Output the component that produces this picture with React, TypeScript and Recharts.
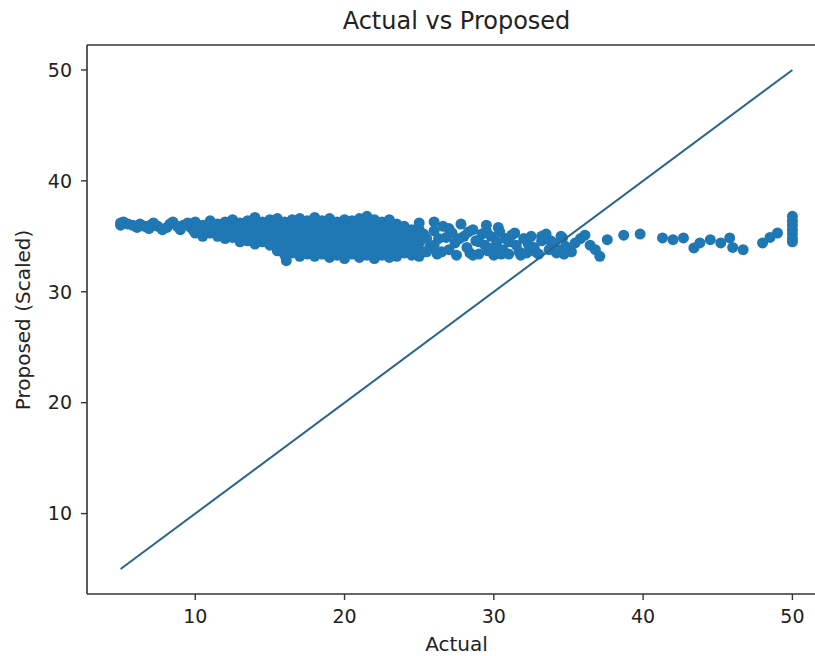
import React from "react";
import { ScatterChart, Scatter, XAxis, YAxis, ReferenceLine } from "recharts";

// [actual, proposed] pairs, grouped by region of the band
const bandLow: [number, number][] = [
  [5, 36.2], [5, 36.0], [5.2, 36.3], [5.5, 36.1], [5.8, 36.0], [6.1, 35.8], [6.3, 36.1],
  [6.6, 35.9], [6.9, 35.7], [7.0, 36.0], [7.2, 36.2], [7.5, 35.9], [7.8, 35.6], [8.1, 35.8],
  [8.3, 36.1], [8.5, 36.3], [8.8, 35.9], [9.0, 35.6], [9.2, 36.0], [9.5, 36.2], [9.7, 35.8],
  [9.9, 35.5],
];

const bandMid: [number, number][] = [
  [10, 36.3], [10, 35.8], [10, 35.3],
  [10.5, 36.0], [10.5, 35.5], [10.5, 35.0],
  [11, 36.4], [11, 35.9], [11, 35.3],
  [11.5, 36.1], [11.5, 35.6], [11.5, 35.0],
  [12, 36.3], [12, 35.7], [12, 35.2], [12, 34.8],
  [12.5, 36.5], [12.5, 35.9], [12.5, 35.4], [12.5, 34.9],
  [13, 36.2], [13, 35.6], [13, 35.0], [13, 34.5],
  [13.5, 36.4], [13.5, 35.8], [13.5, 35.2], [13.5, 34.6],
  [14, 36.7], [14, 36.0], [14, 35.4], [14, 34.8], [14, 34.3],
  [14.5, 36.3], [14.5, 35.7], [14.5, 35.1], [14.5, 34.5],
  [15, 36.5], [15, 36.0], [15, 35.4], [15, 34.8], [15, 34.2],
];

const bandDense: [number, number][] = [
  [15.5, 36.6], [15.5, 36.0], [15.5, 35.4], [15.5, 34.8], [15.5, 34.2], [15.5, 33.7],
  [16, 36.3], [16, 35.7], [16, 35.1], [16, 34.5], [16, 33.9], [16, 33.3], [16.1, 32.8],
  [16.5, 36.5], [16.5, 35.9], [16.5, 35.3], [16.5, 34.7], [16.5, 34.1], [16.5, 33.5],
  [17, 36.6], [17, 36.0], [17, 35.4], [17, 34.8], [17, 34.2], [17, 33.6], [17, 33.2],
  [17.5, 36.4], [17.5, 35.8], [17.5, 35.2], [17.5, 34.6], [17.5, 34.0], [17.5, 33.4],
  [18, 36.7], [18, 36.1], [18, 35.5], [18, 34.9], [18, 34.3], [18, 33.7], [18, 33.2],
  [18.5, 36.4], [18.5, 35.8], [18.5, 35.2], [18.5, 34.6], [18.5, 34.0], [18.5, 33.4],
  [19, 36.6], [19, 36.0], [19, 35.4], [19, 34.8], [19, 34.2], [19, 33.6], [19, 33.1],
  [19.5, 36.3], [19.5, 35.7], [19.5, 35.1], [19.5, 34.5], [19.5, 33.9], [19.5, 33.3],
  [20, 36.5], [20, 35.9], [20, 35.3], [20, 34.7], [20, 34.1], [20, 33.5], [20, 33.0],
  [20.5, 36.4], [20.5, 35.8], [20.5, 35.2], [20.5, 34.6], [20.5, 34.0], [20.5, 33.4],
  [21, 36.6], [21, 36.0], [21, 35.4], [21, 34.8], [21, 34.2], [21, 33.6], [21, 33.1],
  [21.5, 36.8], [21.5, 36.2], [21.5, 35.6], [21.5, 35.0], [21.5, 34.4], [21.5, 33.8], [21.5, 33.3],
  [22, 36.5], [22, 35.9], [22, 35.3], [22, 34.7], [22, 34.1], [22, 33.5], [22, 33.0],
  [22.5, 36.3], [22.5, 35.7], [22.5, 35.1], [22.5, 34.5], [22.5, 33.9], [22.5, 33.3],
  [23, 36.5], [23, 35.9], [23, 35.3], [23, 34.7], [23, 34.1], [23, 33.5], [23, 33.1],
  [23.5, 36.1], [23.5, 35.5], [23.5, 34.9], [23.5, 34.3], [23.5, 33.7], [23.5, 33.2],
  [24, 35.9], [24, 35.3], [24, 34.7], [24, 34.1], [24, 33.5],
  [24.5, 35.6], [24.5, 35.0], [24.5, 34.4], [24.5, 33.8], [24.5, 33.3],
];

const bandSparse: [number, number][] = [
  [25.0, 36.2], [25.0, 35.6], [25.0, 35.0], [25.0, 34.4], [25.0, 33.8], [25.0, 33.2],
  [25.3, 35.2], [25.5, 34.8], [25.5, 33.6], [25.7, 34.0],
  [26.0, 36.3], [26.0, 35.5], [26.0, 34.2], [26.2, 33.4], [26.3, 34.8], [26.5, 33.6],
  [26.6, 35.9], [26.8, 34.9], [27.0, 33.8], [27.0, 35.7], [27.2, 35.3], [27.4, 34.4],
  [27.5, 33.3], [27.7, 34.8],
  [27.8, 36.1], [28.0, 35.0], [28.2, 34.0], [28.3, 35.4], [28.4, 33.5], [28.6, 35.6],
  [28.6, 33.3], [28.8, 34.6],
  [29.0, 33.4], [29.0, 34.5], [29.2, 35.2], [29.4, 34.2], [29.5, 36.0], [29.5, 35.5],
  [29.6, 33.7], [29.8, 35.0], [30.0, 33.3], [30.0, 34.0],
  [30.2, 34.5], [30.3, 35.8], [30.4, 35.4], [30.5, 33.4], [30.6, 33.8], [30.8, 34.8],
  [31.0, 33.4], [31.0, 34.5], [31.2, 35.1], [31.4, 35.3],
  [31.5, 34.2], [31.7, 33.6], [31.8, 33.3], [32.0, 34.8], [32.2, 33.5], [32.3, 34.3],
  [32.5, 35.0], [32.7, 34.0], [32.8, 33.6],
  [33.0, 33.4], [33.2, 34.6], [33.2, 35.0], [33.5, 35.2], [33.7, 33.8], [33.8, 34.6],
  [34.0, 34.4], [34.2, 33.5], [34.3, 33.8],
  [34.5, 35.0], [34.7, 33.4], [34.8, 34.1], [35.2, 33.6], [35.8, 34.8],
];

const bandHigh: [number, number][] = [
  [34.6, 34.85], [35.45, 34.4], [36.1, 35.1], [36.45, 34.2], [36.8, 33.8], [37.1, 33.2],
  [37.6, 34.7], [38.7, 35.1], [39.8, 35.2],
  [41.3, 34.85], [42.0, 34.7], [42.7, 34.85], [43.4, 33.95], [43.8, 34.4], [44.5, 34.7],
  [45.2, 34.4], [45.8, 34.85], [46.0, 34.0], [46.7, 33.8],
  [48.0, 34.4], [48.5, 34.9], [49.0, 35.3],
  [50, 36.8], [50, 36.4], [50, 36.0], [50, 35.6], [50, 35.2], [50, 34.8], [50, 34.5],
];

const diagonalEnds = [5, 50];
const xTicks = [10, 20, 30, 40, 50];
const yTicks = [10, 20, 30, 40, 50];
const axisDomain: [number, number] = [2.75, 52.25];

const points = [...bandLow, ...bandMid, ...bandDense, ...bandSparse, ...bandHigh].map(
  ([actual, proposed]) => ({ actual, proposed })
);
const diagonal = diagonalEnds.map((v) => ({ actual: v, proposed: v }));

const FONT = "'DejaVu Sans', sans-serif";
const TEXT = "#222";
const SPINE = "#333";

const Dot = (props: any) => (
  <circle cx={props.cx} cy={props.cy} r={5.5} fill="#1f77b4" />
);
const NoDot = () => <g />;

export default function App() {
  return (
    <div
      style={{
        position: "absolute",
        left: 0,
        top: 0,
        width: 815,
        height: 656,
        overflow: "hidden",
        background: "#fff",
      }}
    >
      <ScatterChart
        width={830}
        height={656}
        margin={{ top: 45, right: 4, bottom: 0, left: 0 }}
      >
        <XAxis
          type="number"
          dataKey="actual"
          domain={axisDomain}
          allowDataOverflow
          ticks={xTicks}
          height={62}
          tickSize={6}
          tickMargin={10}
          tick={{ fontSize: 19, fill: TEXT, fontFamily: FONT }}
          axisLine={{ stroke: SPINE, strokeWidth: 1.6 }}
          tickLine={{ stroke: SPINE, strokeWidth: 1.4 }}
        />
        <YAxis
          type="number"
          dataKey="proposed"
          domain={axisDomain}
          allowDataOverflow
          ticks={yTicks}
          width={87}
          tickSize={6}
          tickMargin={9}
          tick={{ fontSize: 19, fill: TEXT, fontFamily: FONT }}
          axisLine={{ stroke: SPINE, strokeWidth: 1.6 }}
          tickLine={{ stroke: SPINE, strokeWidth: 1.4 }}
        />
        <ReferenceLine y={axisDomain[1]} stroke={SPINE} strokeWidth={1.6} />
        <ReferenceLine x={axisDomain[1]} stroke={SPINE} strokeWidth={1.6} />
        <Scatter
          data={points}
          shape={Dot}
          isAnimationActive={false}
        />
        <Scatter
          data={diagonal}
          shape={NoDot}
          line={{ stroke: "#27648f", strokeWidth: 2 }}
          lineType="joint"
          isAnimationActive={false}
        />
      </ScatterChart>
      <svg
        width={815}
        height={656}
        style={{ position: "absolute", left: 0, top: 0, pointerEvents: "none" }}
      >
        <text x={456.5} y={29} textAnchor="middle" fontSize={24} fill={TEXT} fontFamily={FONT}>
          Actual vs Proposed
        </text>
        <text x={456.5} y={651} textAnchor="middle" fontSize={20} fill={TEXT} fontFamily={FONT}>
          Actual
        </text>
        <text
          x={0}
          y={0}
          transform="translate(30,320) rotate(-90)"
          textAnchor="middle"
          fontSize={20}
          fill={TEXT}
          fontFamily={FONT}
        >
          Proposed (Scaled)
        </text>
      </svg>
    </div>
  );
}
